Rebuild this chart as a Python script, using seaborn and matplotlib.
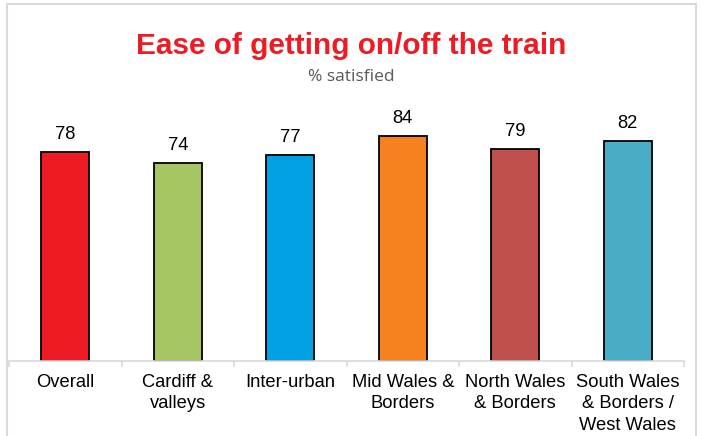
import matplotlib
matplotlib.use("Agg")
import matplotlib.pyplot as plt
import seaborn as sns
import pandas as pd
from matplotlib.patches import Rectangle

# chart data
categories = ["Overall", "Cardiff &\nvalleys", "Inter-urban", "Mid Wales &\nBorders",
              "North Wales\n& Borders", "South Wales\n& Borders /\nWest Wales"]
satisfied = [78, 74, 77, 84, 79, 82]
bar_colors = ["#ED1C24", "#A5C663", "#00A0E2", "#F5821F", "#C0504D", "#4BACC6"]

df = pd.DataFrame({"region": categories, "pct": satisfied})

sns.set_theme(style="white")
plt.rcParams['font.family'] = ['Liberation Sans', 'DejaVu Sans']

fig = plt.figure(figsize=(7.03, 4.36), dpi=100)
ax = fig.add_axes([0.0128, 0.172, 0.9602, 0.615])

sns.barplot(data=df, x="region", y="pct", hue="region", palette=bar_colors,
            saturation=1, legend=False, width=0.43, edgecolor="black",
            linewidth=1.3, ax=ax)

for i, v in enumerate(satisfied):
    ax.text(i, v + 3.3, str(v), ha="center", va="bottom", fontsize=13.2, color="black")

ax.set_ylim(0, 100)
ax.set_xlim(-0.5, len(categories) - 0.5)
ax.set_xlabel("")
ax.set_ylabel("")
ax.set_yticks([])
for s in ["top", "right", "left"]:
    ax.spines[s].set_visible(False)
ax.spines["bottom"].set_color("#d9d9d9")
ax.spines["bottom"].set_linewidth(1.2)

# category labels, separator ticks between categories
ax.set_xticks(range(len(categories)))
ax.set_xticklabels(categories, fontsize=13.2, color="black", linespacing=1.36)
ax.tick_params(axis="x", which="major", length=0, pad=9)
ax.set_xticks([i - 0.5 for i in range(len(categories) + 1)], minor=True)
ax.tick_params(axis="x", which="minor", length=4, width=1.2, color="#d9d9d9", bottom=True)

fig.text(0.5, 0.894, "Ease of getting on/off the train", ha="center", va="center",
         fontsize=21.4, fontweight="bold", color="#ED1C24")
fig.text(0.5, 0.823, "% satisfied", ha="center", va="center", fontsize=12.5,
         color="#595959", family=["Open Sans", "DejaVu Sans"])

# outer chart border
fig.patches.append(Rectangle((0.0105, -0.05), 0.98, 1.04, transform=fig.transFigure,
                             fill=False, edgecolor="#d9d9d9", linewidth=1.5))

fig.savefig("out.png", dpi=100)
